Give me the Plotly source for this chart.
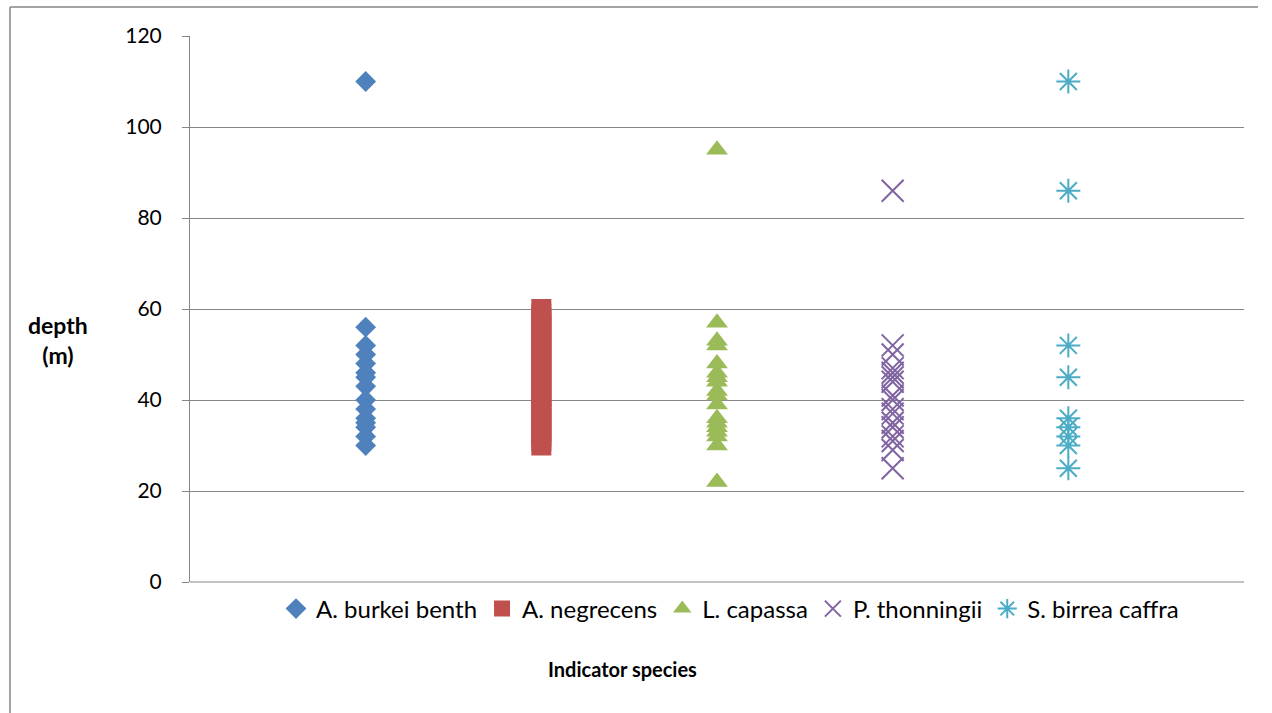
import plotly.graph_objects as go

species = ["A. burkei benth", "A. negrecens", "L. capassa", "P. thonningii", "S. birrea caffra"]
x_pos = [1, 2, 3, 4, 5]

burkei = [110, 56, 52, 50, 48, 46, 45, 43, 40, 38, 36, 35, 34, 32, 30]
negrecens = [60, 59, 58, 57, 56, 55, 54, 53, 52, 51, 50, 49, 48, 47, 46, 45, 44, 43,
             42, 41, 40, 39, 38, 37, 36, 35, 34, 33, 32, 31, 30]
capassa = [95, 57, 53, 52, 48, 46, 45, 44, 42, 41, 39, 36, 35, 34, 33, 32, 30, 22]
thonningii = [86, 52, 50, 47, 46, 45, 44, 41, 40, 38, 37, 35, 34, 32, 31, 29, 25]
birrea = [110, 86, 52, 45, 36, 34, 32, 30, 25]

series = [burkei, negrecens, capassa, thonningii, birrea]
colors = ["#4F81BD", "#C0504D", "#9BBB59", "#8064A2", "#4BACC6"]
symbols = ["diamond", "square", "triangle-up", "x-thin-open", "asterisk-open"]
sizes = [16, 20, 19, 22, 20]

y_ticks = [0, 20, 40, 60, 80, 100, 120]

FONT = "Lato, 'Open Sans', sans-serif"

fig = go.Figure()
for name, xp, vals, c, s, sz in zip(species, x_pos, series, colors, symbols, sizes):
    marker = dict(symbol=s, size=sz, color=c)
    if s.endswith("open"):
        marker["line"] = dict(color=c, width=2)
    fig.add_trace(go.Scatter(
        x=[xp] * len(vals), y=vals, mode="markers", name=name, marker=marker,
    ))

# pixel helpers for paper coordinates
L, R, T, B = 190, 1244, 36, 582
def px(xp):
    return (xp - L) / (R - L)
def py(yp):
    return (B - yp) / (B - T)

fig.update_layout(
    width=1272, height=713,
    margin=dict(l=L, r=1272 - R, t=T, b=713 - B),
    paper_bgcolor="white", plot_bgcolor="white",
    font=dict(family=FONT, size=21, color="black"),
    showlegend=True,
    legend=dict(
        orientation="h", x=px(276), xanchor="left", y=py(609), yanchor="middle",
        font=dict(family=FONT, size=24, color="black"),
        itemwidth=30, tracegroupgap=0, bgcolor="rgba(0,0,0,0)",
    ),
    xaxis=dict(
        range=[0, 6], showgrid=False, zeroline=False, showticklabels=False,
        ticks="", showline=False, fixedrange=True,
    ),
    yaxis=dict(
        range=[0, 120], tickvals=y_ticks, ticktext=[str(v) for v in y_ticks],
        showgrid=True, gridcolor="#868686", gridwidth=1, zeroline=False,
        showline=True, linecolor="#868686", linewidth=1,
        ticks="outside", ticklen=7, tickcolor="#868686",
        ticklabelstandoff=16,
        tickfont=dict(family=FONT, size=21, color="black"),
    ),
    annotations=[
        dict(text="<b>depth</b><br><b>(m)</b>", x=px(58), y=py(340), xref="paper", yref="paper",
             xanchor="center", yanchor="middle",
             showarrow=False, font=dict(family=FONT, size=23, color="black"), align="center"),
        dict(text="<b>Indicator species</b>", x=px(622), y=py(669), xref="paper", yref="paper",
             xanchor="center", yanchor="middle",
             showarrow=False, font=dict(family=FONT, size=20, color="black")),
    ],
    shapes=[
        dict(type="line", xref="paper", yref="paper", x0=px(10), x1=px(1258), y0=py(7), y1=py(7),
             line=dict(color="#868686", width=1.5)),
        dict(type="line", xref="paper", yref="paper", x0=px(10), x1=px(10), y0=py(7), y1=py(720),
             line=dict(color="#868686", width=1.5)),
        dict(type="line", xref="paper", yref="paper", x0=0, x1=1, y0=0, y1=0,
             line=dict(color="#868686", width=1)),
    ],
)

fig.write_html("out.html")
